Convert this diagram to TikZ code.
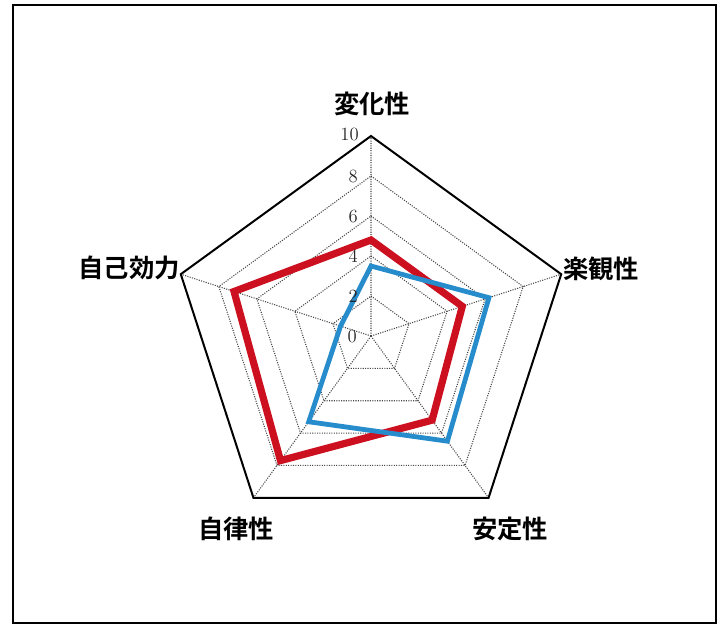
\documentclass[tikz,border=0pt]{standalone}
\usepackage{fontspec}
\usepackage{tikz}
\newfontfamily\jpfont{Noto Sans CJK JP}[BoldFont={Noto Sans CJK JP Bold}]
\definecolor{scoreRed}{RGB}{204,16,32}
\definecolor{scoreBlue}{RGB}{38,140,204}
\tikzset{
  gridline/.style={color={rgb, 255:red, 70; green, 70; blue, 70 }, densely dotted, line width=0.8pt},
  axislabel/.style={inner sep=0.75pt, font=\jpfont\bfseries\fontsize{19}{19}\selectfont},
  ticklabel/.style={anchor=east, inner sep=0.75pt, text=black!85, font=\fontsize{14}{14}\selectfont},
}

\begin{document}
\begin{tikzpicture}[x=0.75pt,y=0.75pt,yscale=-1,xscale=1]
\path[use as bounding box] (0,0) rectangle (717,625);

%Frame
\draw [line width=1.5pt]  (13,5) rectangle (716,623) ;

\begin{scope}[shift={(371,336)}]
%Spokes
\coordinate (ctr) at (0,0);
\coordinate (vTop) at (270:200);
\coordinate (vRight) at (342:200);
\coordinate (vBotR) at (54:200);
\coordinate (vBotL) at (126:200);
\coordinate (vLeft) at (198:200);
\draw [gridline] (ctr) -- (vTop) (ctr) -- (vRight) (ctr) -- (vBotR) (ctr) -- (vBotL) (ctr) -- (vLeft) ;

%Grid Pentagons
\draw [gridline] (270:40) -- (342:40) -- (54:40) -- (126:40) -- (198:40) -- cycle ;
\draw [gridline] (270:80) -- (342:80) -- (54:80) -- (126:80) -- (198:80) -- cycle ;
\draw [gridline] (270:120) -- (342:120) -- (54:120) -- (126:120) -- (198:120) -- cycle ;
\draw [gridline] (270:160) -- (342:160) -- (54:160) -- (126:160) -- (198:160) -- cycle ;
%Outer Pentagon
\draw [line width=1.5pt, line join=miter] (vTop) -- (vRight) -- (vBotR) -- (vBotL) -- (vLeft) -- cycle ;

%Red Series
\draw [color=scoreRed, line width=5.4pt, line join=miter] (270:96) -- (342:96) -- (54:104) -- (126:154) -- (198:144) -- cycle ;
%Blue Series
\draw [color=scoreBlue, line width=3.6pt, line join=miter] (270:70) -- (342:124) -- (54:130) -- (126:106) -- (198:32) -- cycle ;

% Tick Labels
\node [ticklabel] (t10) at (-11,-202) {10};
\node [ticklabel] (t8) at (-12,-160) {8};
\node [ticklabel] (t6) at (-12,-120) {6};
\node [ticklabel] (t4) at (-12,-80) {4};
\node [ticklabel] (t2) at (-12,-40) {2};
\node [ticklabel] (t0) at (-13,0) {0};
\end{scope}

% Text Node
\node [axislabel] (henka) at (372,104) {変化性};
% Text Node
\node [axislabel] (rakkan) at (601,269) {楽観性};
% Text Node
\node [axislabel] (antei) at (510,529) {安定性};
% Text Node
\node [axislabel] (jiritsu) at (236,529) {自律性};
% Text Node
\node [axislabel] (jiko) at (129,268) {自己効力};

\end{tikzpicture}
\end{document}
